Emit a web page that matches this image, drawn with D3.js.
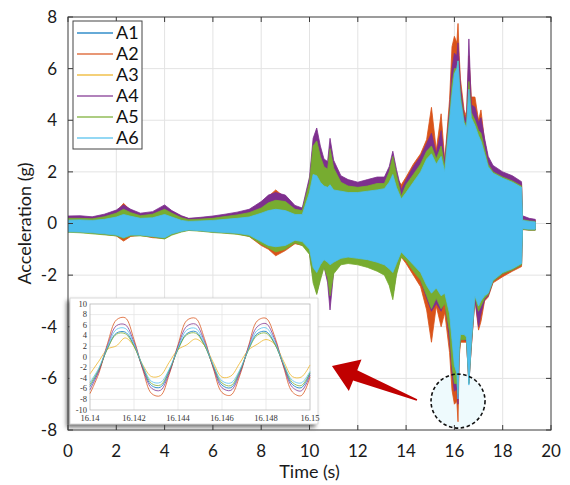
<!DOCTYPE html>
<html>
<head>
<meta charset="utf-8">
<script src="https://cdn.jsdelivr.net/npm/d3@7"></script>
<style>
  html, body { margin: 0; padding: 0; background: #fff; }
  svg { display: block; }
</style>
</head>
<body>
<svg id="chart" width="570" height="485"></svg>
<script>
// ---- Channel names and colours ----
const channels = ["A1", "A2", "A3", "A4", "A5", "A6"];
const channelColors = ["#0072BD", "#D95319", "#EDB120", "#7E2F8E", "#77AC30", "#4DBEEE"];

// ---- Full record: envelope of each channel's acceleration (g) over time (s) ----
const timeKnots = [0, 0.5, 1, 1.5, 2, 2.3, 2.6, 3, 3.5, 4, 4.3, 4.7, 5, 5.5, 6, 6.5, 7, 7.5, 8, 8.3,
  8.6, 9, 9.4, 9.7, 10, 10.15, 10.3, 10.45, 10.6, 10.75, 10.85, 11, 11.3, 11.6, 12, 12.4, 12.8, 13.1, 13.3, 13.45,
  13.6, 13.8, 14, 14.3, 14.6, 14.85, 15.05, 15.25, 15.45, 15.6, 15.8, 15.9, 16.0, 16.1, 16.15, 16.2, 16.25, 16.4, 16.5, 16.6,
  16.7, 16.85, 17.0, 17.1, 17.25, 17.4, 17.6, 18, 18.4, 18.78, 18.82, 19.1, 19.35];

const a2Upper = [0.22, 0.24, 0.22, 0.3, 0.45, 0.78, 0.5, 0.36, 0.4, 0.6, 0.45, 0.28, 0.18, 0.2, 0.25, 0.3, 0.38, 0.5, 0.8, 1.05,
  1.3, 1.0, 0.65, 0.55, 1.5, 2.6, 3.0, 2.4, 2.0, 2.0, 2.6, 2.0, 1.6, 1.5, 1.45, 1.5, 1.6, 1.6, 1.9, 2.3,
  1.8, 1.5, 1.8, 2.3, 2.7, 3.25, 4.5, 2.85, 4.25, 2.45, 4.8, 6.85, 7.25, 7.0, 7.75, 6.5, 5.6, 4.4, 4.15, 6.5,
  4.9, 4.9, 4.0, 4.4, 3.2, 2.5, 2.15, 1.9, 1.75, 1.55, 0.25, 0.15, 0.12];
const a2Lower = [-0.3, -0.32, -0.36, -0.42, -0.48, -0.68, -0.5, -0.46, -0.55, -0.58, -0.42, -0.3, -0.25, -0.28, -0.32, -0.36, -0.4, -0.5, -0.85, -1.0,
  -1.25, -1.05, -0.78, -0.85, -1.1, -2.0, -2.5, -2.0, -1.5, -1.8, -2.4, -1.7, -1.4, -1.4, -1.45, -1.5, -1.6, -1.75, -2.0, -2.4,
  -1.8, -1.3, -1.55, -2.0, -2.45, -3.35, -4.6, -3.2, -4.0, -3.45, -5.0, -6.45, -7.0, -6.9, -7.68, -5.2, -4.6, -4.6, -4.6, -6.1,
  -4.8, -2.96, -4.13, -3.8, -3.0, -2.85, -2.3, -2.06, -1.85, -1.67, -0.24, -0.25, -0.25];

const a4Upper = [0.29, 0.3, 0.26, 0.36, 0.52, 0.72, 0.55, 0.4, 0.46, 0.72, 0.5, 0.3, 0.2, 0.24, 0.29, 0.36, 0.44, 0.55, 0.85, 1.1,
  1.2, 1.1, 0.7, 0.6, 1.8, 3.3, 3.7, 3.0, 2.5, 2.4, 3.3, 2.45, 1.85, 1.7, 1.6, 1.7, 1.8, 1.8, 2.2, 2.8,
  2.1, 1.3, 1.7, 2.2, 2.6, 3.1, 3.5, 2.7, 3.6, 2.35, 4.4, 6.0, 6.6, 6.5, 7.0, 6.2, 5.3, 4.2, 4.0, 7.15,
  4.6, 4.5, 3.9, 4.1, 3.3, 2.6, 2.25, 2.0, 1.85, 1.62, 0.3, 0.2, 0.16];
const a4Lower = [-0.3, -0.32, -0.36, -0.4, -0.44, -0.55, -0.45, -0.44, -0.48, -0.55, -0.4, -0.3, -0.25, -0.28, -0.32, -0.35, -0.38, -0.45, -0.75, -0.9,
  -1.05, -0.95, -0.72, -0.8, -1.15, -2.1, -2.7, -2.1, -1.65, -2.3, -3.35, -1.9, -1.55, -1.5, -1.55, -1.65, -1.8, -1.9, -2.3, -2.8,
  -1.9, -1.25, -1.4, -1.8, -2.2, -2.9, -3.4, -3.1, -3.4, -3.0, -4.5, -5.8, -6.5, -6.4, -7.0, -5.0, -4.5, -4.5, -4.55, -6.2,
  -4.77, -2.9, -4.0, -3.5, -2.95, -2.8, -2.25, -1.95, -1.8, -1.6, -0.22, -0.25, -0.25];

const a5Upper = [0.2, 0.2, 0.18, 0.26, 0.4, 0.55, 0.42, 0.3, 0.36, 0.55, 0.4, 0.22, 0.15, 0.17, 0.2, 0.27, 0.33, 0.42, 0.6, 0.8,
  0.9, 0.85, 0.55, 0.5, 1.6, 3.0, 3.2, 2.6, 2.2, 2.1, 2.9, 2.15, 1.6, 1.45, 1.4, 1.45, 1.55, 1.55, 2.0, 2.6,
  1.9, 1.05, 1.5, 1.9, 2.3, 2.8, 3.0, 2.5, 3.0, 2.2, 4.2, 5.4, 6.0, 6.0, 6.3, 5.6, 5.0, 4.0, 3.8, 5.5,
  4.3, 4.0, 3.6, 3.5, 2.9, 2.3, 2.0, 1.8, 1.65, 1.45, 0.15, 0.1, 0.08];
const a5Lower = [-0.34, -0.36, -0.4, -0.44, -0.48, -0.58, -0.48, -0.48, -0.52, -0.6, -0.45, -0.33, -0.27, -0.3, -0.35, -0.38, -0.42, -0.5, -0.8, -0.95,
  -1.1, -1.0, -0.75, -0.85, -1.2, -2.3, -2.75, -2.2, -1.7, -2.1, -2.8, -1.95, -1.6, -1.55, -1.6, -1.7, -1.85, -2.0, -2.4, -2.95,
  -2.0, -1.3, -1.45, -1.85, -2.2, -2.8, -3.3, -2.9, -3.3, -3.1, -4.2, -5.5, -6.2, -6.2, -6.6, -5.0, -4.5, -4.5, -4.5, -6.2,
  -4.7, -2.85, -3.4, -3.2, -2.9, -2.75, -2.25, -1.95, -1.8, -1.6, -0.22, -0.26, -0.26];

const a6Upper = [0.13, 0.14, 0.12, 0.16, 0.25, 0.35, 0.28, 0.2, 0.22, 0.35, 0.25, 0.12, 0.08, 0.1, 0.12, 0.16, 0.2, 0.25, 0.4, 0.5,
  0.55, 0.5, 0.35, 0.35, 1.2, 1.9, 1.85, 1.6, 1.45, 1.4, 1.5, 1.3, 1.25, 1.2, 1.2, 1.25, 1.3, 1.35, 1.6, 1.9,
  1.4, 0.95, 1.2, 1.6, 2.0, 2.5, 2.7, 2.3, 2.6, 2.0, 4.0, 5.0, 5.8, 6.0, 6.3, 5.5, 4.8, 3.9, 3.7, 5.2,
  4.1, 3.8, 3.4, 3.2, 2.7, 2.2, 1.95, 1.75, 1.6, 1.4, 0.12, 0.08, 0.06];
const a6Lower = [-0.32, -0.33, -0.36, -0.4, -0.45, -0.55, -0.45, -0.45, -0.5, -0.55, -0.4, -0.3, -0.25, -0.28, -0.32, -0.35, -0.38, -0.45, -0.7, -0.85,
  -0.9, -0.85, -0.65, -0.7, -1.0, -1.7, -1.9, -1.6, -1.4, -1.5, -1.6, -1.5, -1.35, -1.3, -1.35, -1.4, -1.5, -1.6, -1.75, -1.9,
  -1.55, -1.1, -1.3, -1.6, -1.9, -2.4, -2.7, -2.5, -2.8, -2.7, -3.5, -4.5, -5.5, -5.8, -6.8, -4.8, -4.3, -4.3, -4.4, -6.26,
  -4.6, -2.8, -3.2, -3.0, -2.8, -2.7, -2.2, -1.9, -1.75, -1.55, -0.2, -0.22, -0.22];

// ---- Zoomed window 16.140 – 16.150 s: sampled waveform of every channel ----
const insetTime = [16.1400, 16.1404, 16.1408, 16.1412, 16.1416, 16.1420, 16.1424, 16.1428, 16.1432, 16.1436,
  16.1440, 16.1444, 16.1448, 16.1452, 16.1456, 16.1460, 16.1464, 16.1468, 16.1472, 16.1476,
  16.1480, 16.1484, 16.1488, 16.1492, 16.1496, 16.1500];
const insetA1 = [-5.6, -2.5, 1.7, 4.5, 4.7, 2.2, -2.0, -5.4, -5.7, -2.7, 1.5, 4.4, 4.8, 2.3, -1.7, -5.3, -5.8, -2.9, 1.4, 4.4, 4.8, 2.5, -1.5, -5.2, -5.8, -3.1];
const insetA2 = [-6.9, -3.1, 2.6, 7.0, 7.4, 3.3, -2.4, -6.9, -7.3, -3.3, 2.3, 6.9, 7.3, 3.5, -2.1, -6.7, -7.2, -3.6, 2.0, 6.8, 7.3, 3.8, -1.9, -6.6, -7.3, -3.8];
const insetA3 = [-3.2, -0.8, 1.5, 2.1, 3.6, 2.0, -1.5, -3.7, -3.5, -1.0, 1.4, 2.3, 3.4, 2.2, -1.0, -3.8, -3.6, -1.2, 1.3, 2.4, 3.3, 2.4, -0.8, -3.7, -3.8, -1.5];
const insetA4 = [-6.2, -2.7, 2.2, 5.9, 6.1, 2.8, -2.2, -5.9, -6.3, -3.0, 2.0, 5.8, 6.2, 3.0, -1.9, -5.8, -6.3, -3.2, 1.8, 5.7, 6.3, 3.3, -1.7, -5.7, -6.4, -3.4];
const insetA5 = [-5.2, -2.3, 1.6, 4.3, 4.4, 2.0, -1.8, -5.0, -5.3, -2.5, 1.4, 4.2, 4.5, 2.2, -1.6, -4.9, -5.4, -2.7, 1.3, 4.1, 4.5, 2.4, -1.4, -4.8, -5.4, -2.9];
const insetA6 = [-4.8, -2.1, 2.0, 5.2, 5.4, 2.5, -1.7, -4.6, -4.8, -2.3, 1.7, 5.1, 5.4, 2.7, -1.5, -4.5, -4.9, -2.5, 1.5, 5.0, 5.5, 2.9, -1.3, -4.4, -4.9, -2.7];

// ---- Tick values ----
const xTicks = [0, 2, 4, 6, 8, 10, 12, 14, 16, 18, 20];
const yTicks = [-8, -6, -4, -2, 0, 2, 4, 6, 8];
const insetXTicks = [16.14, 16.142, 16.144, 16.146, 16.148, 16.15];
const insetYTicks = [-10, -8, -6, -4, -2, 0, 2, 4, 6, 8, 10];

// Highlighted burst (centre in data units) and the pointer towards the zoomed window
const focusTime = 16.15, focusAccel = -6.88;
const pointerFrom = [14.45, -6.84], pointerTo = [10.93, -5.52];

// ---------------------------------------------------------------------
const svg = d3.select("#chart");
const FONT = "Lato, 'Open Sans', sans-serif";
const M = { left: 68, right: 551, top: 17, bottom: 430 };

const x = d3.scaleLinear().domain([0, 20]).range([M.left, M.right]);
const y = d3.scaleLinear().domain([-8, 8]).range([M.bottom, M.top]);

const defs = svg.append("defs");
defs.append("clipPath").attr("id", "plotClip")
  .append("rect").attr("x", M.left).attr("y", M.top)
  .attr("width", M.right - M.left).attr("height", M.bottom - M.top);
const shadow = defs.append("filter").attr("id", "insetShadow")
  .attr("x", "-10%").attr("y", "-10%").attr("width", "120%").attr("height", "125%");
shadow.append("feDropShadow").attr("dx", -3).attr("dy", 3).attr("stdDeviation", 2.2)
  .attr("flood-color", "#444").attr("flood-opacity", 0.75);

// Background grid
const grid = svg.append("g");
grid.selectAll(".gx").data(xTicks.slice(1, -1)).join("line")
  .attr("x1", d => x(d)).attr("x2", d => x(d)).attr("y1", M.top).attr("y2", M.bottom)
  .attr("stroke", "#e3e3e3").attr("stroke-width", 1);
grid.selectAll(".gy").data(yTicks.slice(1, -1)).join("line")
  .attr("x1", M.left).attr("x2", M.right).attr("y1", d => y(d)).attr("y2", d => y(d))
  .attr("stroke", "#e3e3e3").attr("stroke-width", 1);

// Light disc behind the highlighted burst
const focusR = 27;
svg.append("circle").attr("cx", x(focusTime)).attr("cy", y(focusAccel)).attr("r", focusR)
  .attr("fill", "#eefafd");

// Envelope bands, drawn in channel order so A6 lies on top
const bands = [
  { idx: 1, upper: a2Upper, lower: a2Lower },
  { idx: 3, upper: a4Upper, lower: a4Lower },
  { idx: 4, upper: a5Upper, lower: a5Lower },
  { idx: 5, upper: a6Upper, lower: a6Lower }
];
const area = d3.area()
  .x(d => x(d.t)).y0(d => y(d.lo)).y1(d => y(d.hi))
  .curve(d3.curveLinear);
const bandLayer = svg.append("g").attr("clip-path", "url(#plotClip)");
bands.forEach(b => {
  const pts = timeKnots.map((t, i) => ({ t, hi: b.upper[i], lo: b.lower[i] }));
  bandLayer.append("path").datum(pts)
    .attr("d", area)
    .attr("fill", channelColors[b.idx])
    .attr("stroke", channelColors[b.idx]).attr("stroke-width", 0.8)
    .attr("stroke-linejoin", "round");
});

// Dashed outline around the burst
svg.append("circle").attr("cx", x(focusTime)).attr("cy", y(focusAccel)).attr("r", focusR)
  .attr("fill", "none").attr("stroke", "#111").attr("stroke-width", 1.6)
  .attr("stroke-dasharray", "3.5,2.5");

// Axes frame with inward ticks on all four sides
const frame = svg.append("g");
const tickLen = 5, axisColor = "#3a3a3a";
frame.append("rect").attr("x", M.left).attr("y", M.top)
  .attr("width", M.right - M.left).attr("height", M.bottom - M.top)
  .attr("fill", "none").attr("stroke", axisColor).attr("stroke-width", 1);
xTicks.forEach(v => {
  frame.append("line").attr("x1", x(v)).attr("x2", x(v)).attr("y1", M.bottom).attr("y2", M.bottom - tickLen)
    .attr("stroke", axisColor);
  frame.append("line").attr("x1", x(v)).attr("x2", x(v)).attr("y1", M.top).attr("y2", M.top + tickLen)
    .attr("stroke", axisColor);
});
yTicks.forEach(v => {
  frame.append("line").attr("x1", M.left).attr("x2", M.left + tickLen).attr("y1", y(v)).attr("y2", y(v))
    .attr("stroke", axisColor);
  frame.append("line").attr("x1", M.right).attr("x2", M.right - tickLen).attr("y1", y(v)).attr("y2", y(v))
    .attr("stroke", axisColor);
});

// Tick labels
svg.append("g").selectAll("text").data(xTicks).join("text")
  .attr("x", d => x(d)).attr("y", 457)
  .attr("text-anchor", "middle").attr("font-family", FONT).attr("font-size", 17).attr("fill", "#1a1a1a")
  .text(d => d);
svg.append("g").selectAll("text").data(yTicks).join("text")
  .attr("x", 57).attr("y", d => y(d)).attr("dy", "0.35em")
  .attr("text-anchor", "end").attr("font-family", FONT).attr("font-size", 17).attr("fill", "#1a1a1a")
  .text(d => d);

// Axis titles
svg.append("text").attr("x", (M.left + M.right) / 2).attr("y", 478)
  .attr("text-anchor", "middle").attr("font-family", FONT).attr("font-size", 18).attr("fill", "#1a1a1a")
  .text("Time (s)");
svg.append("text").attr("transform", `translate(31,${(M.top + M.bottom) / 2}) rotate(-90)`)
  .attr("text-anchor", "middle").attr("font-family", FONT).attr("font-size", 18).attr("fill", "#1a1a1a")
  .text("Acceleration (g)");

// Legend
const lg = svg.append("g");
lg.append("rect").attr("x", 73).attr("y", 21).attr("width", 69).attr("height", 128)
  .attr("fill", "#fff").attr("stroke", "#444").attr("stroke-width", 1);
channels.forEach((name, i) => {
  const cy = 33 + i * 21;
  lg.append("line").attr("x1", 77).attr("x2", 113).attr("y1", cy).attr("y2", cy)
    .attr("stroke", channelColors[i]).attr("stroke-width", 1.3).attr("stroke-opacity", 0.8);
  lg.append("text").attr("x", 116).attr("y", cy).attr("dy", "0.36em")
    .attr("font-family", FONT).attr("font-size", 18).attr("fill", "#111").text(name);
});

// Pointer arrow from the burst towards the zoomed window
(function drawPointer() {
  const [tx, ty] = [x(pointerTo[0]), y(pointerTo[1])];
  const [fx, fy] = [x(pointerFrom[0]), y(pointerFrom[1])];
  const len = Math.hypot(fx - tx, fy - ty);
  const ux = (fx - tx) / len, uy = (fy - ty) / len;   // unit vector tip -> tail
  const nx = -uy, ny = ux;                              // normal
  const headLen = 25, headHalf = 17, shaftHalf = 5.5, tailHalf = 0.8;
  const bx = tx + ux * headLen, by = ty + uy * headLen;
  const pts = [
    [tx, ty],
    [bx + nx * headHalf, by + ny * headHalf],
    [bx + nx * shaftHalf, by + ny * shaftHalf],
    [fx + nx * tailHalf, fy + ny * tailHalf],
    [fx - nx * tailHalf, fy - ny * tailHalf],
    [bx - nx * shaftHalf, by - ny * shaftHalf],
    [bx - nx * headHalf, by - ny * headHalf]
  ];
  svg.append("path").attr("d", d3.line()(pts) + "Z").attr("fill", "#c00000");
})();

// ---- Zoomed window panel ----
const ix = d3.scaleLinear().domain([16.14, 16.15]).range([90, 310]);
const iy = d3.scaleLinear().domain([-10, 10]).range([410, 304]);
const inset = svg.append("g");
inset.append("rect").attr("x", 70).attr("y", 298).attr("width", 248).attr("height", 126)
  .attr("fill", "#fff").attr("stroke", "#d0d0d0").attr("stroke-width", 0.8)
  .attr("filter", "url(#insetShadow)");
inset.selectAll(".igx").data(insetXTicks.slice(1, -1)).join("line")
  .attr("x1", d => ix(d)).attr("x2", d => ix(d)).attr("y1", iy(10)).attr("y2", iy(-10))
  .attr("stroke", "#e6e6e6").attr("stroke-width", 0.8);
inset.selectAll(".igy").data(insetYTicks.slice(1, -1)).join("line")
  .attr("x1", ix(16.14)).attr("x2", ix(16.15)).attr("y1", d => iy(d)).attr("y2", d => iy(d))
  .attr("stroke", "#e6e6e6").attr("stroke-width", 0.8);
inset.append("rect").attr("x", ix(16.14)).attr("y", iy(10))
  .attr("width", ix(16.15) - ix(16.14)).attr("height", iy(-10) - iy(10))
  .attr("fill", "none").attr("stroke", "#b8b8b8").attr("stroke-width", 0.8);

const insetSeries = [insetA1, insetA2, insetA3, insetA4, insetA5, insetA6];
const iline = d3.line().x((d, i) => ix(insetTime[i])).y(d => iy(d)).curve(d3.curveCatmullRom.alpha(0.5));
insetSeries.forEach((vals, k) => {
  inset.append("path").datum(vals).attr("d", iline)
    .attr("fill", "none").attr("stroke", channelColors[k]).attr("stroke-width", 0.9)
    .attr("stroke-opacity", 0.85);
});

const SERIF = "'Liberation Serif', 'DejaVu Serif', serif";
inset.selectAll(".ixl").data(insetXTicks).join("text")
  .attr("x", d => ix(d)).attr("y", 421)
  .attr("text-anchor", "middle").attr("font-family", SERIF).attr("font-size", 8.5).attr("fill", "#333")
  .text(d => d3.format("")(+d.toFixed(3)));
inset.selectAll(".iyl").data(insetYTicks).join("text")
  .attr("x", 87).attr("y", d => iy(d)).attr("dy", "0.3em")
  .attr("text-anchor", "end").attr("font-family", SERIF).attr("font-size", 8.5).attr("fill", "#333")
  .text(d => d);
</script>
</body>
</html>
